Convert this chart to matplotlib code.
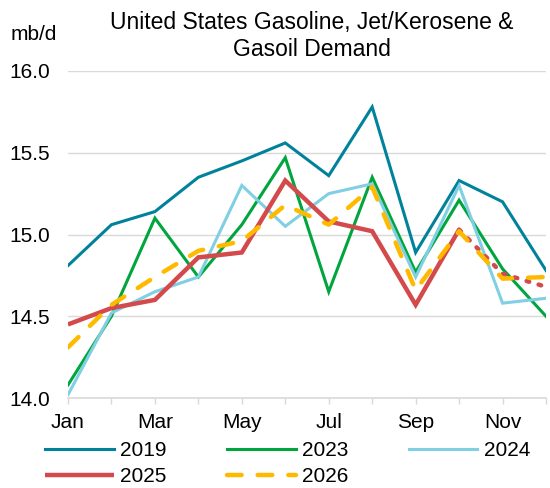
import matplotlib
matplotlib.use('Agg')
import matplotlib.pyplot as plt

plt.rcParams['font.family'] = ['Liberation Sans', 'DejaVu Sans']

months = ['Jan', 'Feb', 'Mar', 'Apr', 'May', 'Jun', 'Jul', 'Aug', 'Sep', 'Oct', 'Nov', 'Dec']
y2019 = [14.81, 15.06, 15.14, 15.35, 15.45, 15.56, 15.36, 15.78, 14.89, 15.33, 15.20, 14.78]
y2023 = [14.08, 14.50, 15.10, 14.74, 15.06, 15.47, 14.65, 15.35, 14.77, 15.21, 14.79, 14.50]
y2024 = [14.02, 14.52, 14.65, 14.74, 15.30, 15.05, 15.25, 15.31, 14.74, 15.30, 14.58, 14.61]
y2025 = [14.45, 14.55, 14.60, 14.86, 14.89, 15.33, 15.08, 15.02, 14.57, 15.03, 14.76, 14.68]
y2026 = [14.31, 14.57, 14.74, 14.90, 14.96, 15.18, 15.06, 15.29, 14.66, 15.02, 14.73, 14.74]
n_actual_2025 = 10  # solid through Oct, dotted forecast after

c2019 = '#00829B'
c2023 = '#00A53D'
c2024 = '#80CFE3'
c2025 = '#D4494B'
c2026 = '#FFBA00'

fig = plt.figure(figsize=(5.5, 4.88), dpi=100)
ax = fig.add_axes([68/550, 1-398/488, (546-68)/550, (398-71)/488])

x = list(range(len(months)))
h19, = ax.plot(x, y2019, color=c2019, lw=2.2, label='2019', solid_joinstyle='miter')
h23, = ax.plot(x, y2023, color=c2023, lw=2.2, label='2023', solid_joinstyle='miter')
h24, = ax.plot(x, y2024, color=c2024, lw=2.2, label='2024', solid_joinstyle='miter')
h25, = ax.plot(x[:n_actual_2025], y2025[:n_actual_2025], color=c2025, lw=3.2, label='2025',
               solid_joinstyle='miter', solid_capstyle='butt')
ax.plot(x[n_actual_2025-1:], y2025[n_actual_2025-1:], color=c2025, lw=3.2,
        dashes=(0.6, 2.2), dash_capstyle='round')
h26, = ax.plot(x, y2026, color=c2026, lw=3.2, label='2026', dashes=(3.3, 3.6), dash_capstyle='round')

ax.set_xlim(0, 11)
ax.set_ylim(14, 16)
ax.set_yticks([14.0, 14.5, 15.0, 15.5, 16.0])
ax.set_yticklabels(['%.1f' % v for v in [14.0, 14.5, 15.0, 15.5, 16.0]])
ax.set_xticks(x)
ax.set_xticklabels([m if i % 2 == 0 else '' for i, m in enumerate(months)])
ax.grid(axis='y', color='#D9D9D9', lw=1)
ax.set_axisbelow(True)
for s in ['top', 'right', 'left']:
    ax.spines[s].set_visible(False)
ax.spines['bottom'].set_color('#D9D9D9')
ax.spines['bottom'].set_linewidth(1.2)
ax.tick_params(axis='y', length=0, labelsize=15, pad=13)
ax.tick_params(axis='x', length=4, color='#D9D9D9', width=1, labelsize=15, pad=7)

fig.text(312/550, 1-36/488, 'United States Gasoline, Jet/Kerosene &\nGasoil Demand',
         ha='center', va='center', fontsize=16.5, linespacing=1.25)
fig.text(11/550, 1-35/488, 'mb/d', ha='left', va='center', fontsize=15)

# column-major fill so rows read 2019 2023 2024 / 2025 2026
handles = [h19, h25, h23, h26, h24]
fig.legend(handles, [h.get_label() for h in handles], loc='upper left',
           bbox_to_anchor=(45/550, 1-441/488), ncol=3, frameon=False,
           fontsize=15, handlelength=3.3, handletextpad=0.3, columnspacing=2.9,
           labelspacing=0.35, borderpad=0, borderaxespad=0)

fig.savefig('out.png', dpi=100)
